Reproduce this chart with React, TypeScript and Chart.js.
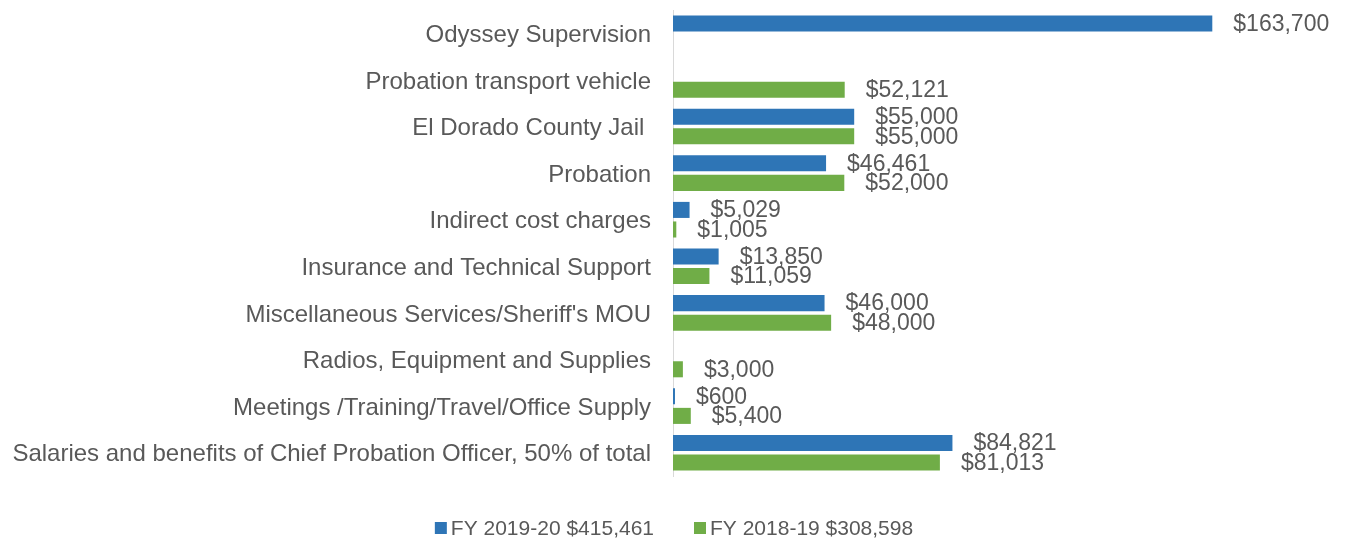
import { useEffect, useRef } from "react";
import { Chart, registerables } from "chart.js";

Chart.register(...registerables);

const categories = [
  "Odyssey Supervision",
  "Probation transport vehicle",
  "El Dorado County Jail ",
  "Probation",
  "Indirect cost charges",
  "Insurance and Technical Support",
  "Miscellaneous Services/Sheriff's MOU",
  "Radios, Equipment and Supplies",
  "Meetings /Training/Travel/Office Supply",
  "Salaries and benefits of Chief Probation Officer, 50% of total",
];

const fy2019Values: (number | null)[] = [163700, null, 55000, 46461, 5029, 13850, 46000, null, 600, 84821];
const fy2018Values: (number | null)[] = [null, 52121, 55000, 52000, 1005, 11059, 48000, 3000, 5400, 81013];
const seriesLabels = ["FY 2019-20 $415,461", "FY 2018-19 $308,598"];
const seriesColors = ["#2E75B6", "#70AD47"];

const FONT = "'Liberation Sans', Arial, sans-serif";
const TEXT = "#595959";

const formatMoney = (v: number) => "$" + v.toLocaleString("en-US");

const valueLabels = {
  id: "valueLabels",
  afterDatasetsDraw(chart: any) {
    const ctx = chart.ctx;
    ctx.save();
    ctx.font = `23px ${FONT}`;
    ctx.fillStyle = TEXT;
    ctx.textAlign = "left";
    ctx.textBaseline = "middle";
    chart.data.datasets.forEach((ds: any, di: number) => {
      const meta = chart.getDatasetMeta(di);
      meta.data.forEach((el: any, i: number) => {
        const v = ds.data[i];
        if (v === null || v === undefined) return;
        ctx.fillText(formatMoney(v), el.x + 21, el.y + 1);
      });
    });
    ctx.restore();
  },
};

const customLegend = {
  id: "customLegend",
  afterDraw(chart: any) {
    const ctx = chart.ctx;
    ctx.save();
    ctx.font = `21px ${FONT}`;
    ctx.textBaseline = "middle";
    ctx.textAlign = "left";
    const box = 12;
    const gap = 4;
    const itemGap = 40;
    const items = chart.data.datasets.map((ds: any) => ({
      label: ds.label as string,
      color: ds.backgroundColor as string,
      w: ctx.measureText(ds.label).width,
    }));
    const total =
      items.reduce((s: number, it: any) => s + box + gap + it.w, 0) + itemGap * (items.length - 1);
    let x = (chart.width - total) / 2 - 2;
    const y = 528;
    items.forEach((it: any) => {
      ctx.fillStyle = it.color;
      ctx.fillRect(x, y - box / 2, box, box);
      ctx.fillStyle = TEXT;
      ctx.fillText(it.label, x + box + gap, y + 1);
      x += box + gap + it.w + itemGap;
    });
    ctx.restore();
  },
};

export default function App() {
  const ref = useRef<HTMLCanvasElement>(null);
  useEffect(() => {
    const canvas = ref.current!;
    Chart.defaults.font.family = FONT;
    const chart = new Chart(canvas, {
      type: "bar",
      data: {
        labels: categories,
        datasets: [
          {
            label: seriesLabels[0],
            data: fy2019Values,
            backgroundColor: seriesColors[0],
            categoryPercentage: 0.84,
            barPercentage: 0.82,
          },
          {
            label: seriesLabels[1],
            data: fy2018Values,
            backgroundColor: seriesColors[1],
            categoryPercentage: 0.84,
            barPercentage: 0.82,
          },
        ],
      },
      options: {
        indexAxis: "y",
        responsive: false,
        animation: false,
        layout: { padding: { top: 10, bottom: 64, left: 0, right: 86 } },
        scales: {
          x: { display: false, min: 0, max: 180000 },
          y: {
            afterFit: (s: any) => {
              s.width = 673;
              s.paddingTop = 0;
              s.paddingBottom = 0;
            },
            grid: { display: false, drawTicks: false },
            border: { display: true, color: "#d9d9d9", width: 1 },
            ticks: {
              autoSkip: false,
              padding: 22,
              labelOffset: 2,
              color: TEXT,
              font: { size: 24, family: FONT },
            },
          },
        },
        plugins: {
          legend: { display: false },
          tooltip: { enabled: false },
        },
      },
      plugins: [valueLabels, customLegend],
    } as any);
    return () => chart.destroy();
  }, []);
  return (
    <div style={{ position: "absolute", left: 0, top: 0 }}>
      <canvas ref={ref} width={1352} height={540} style={{ display: "block" }} />
    </div>
  );
}
